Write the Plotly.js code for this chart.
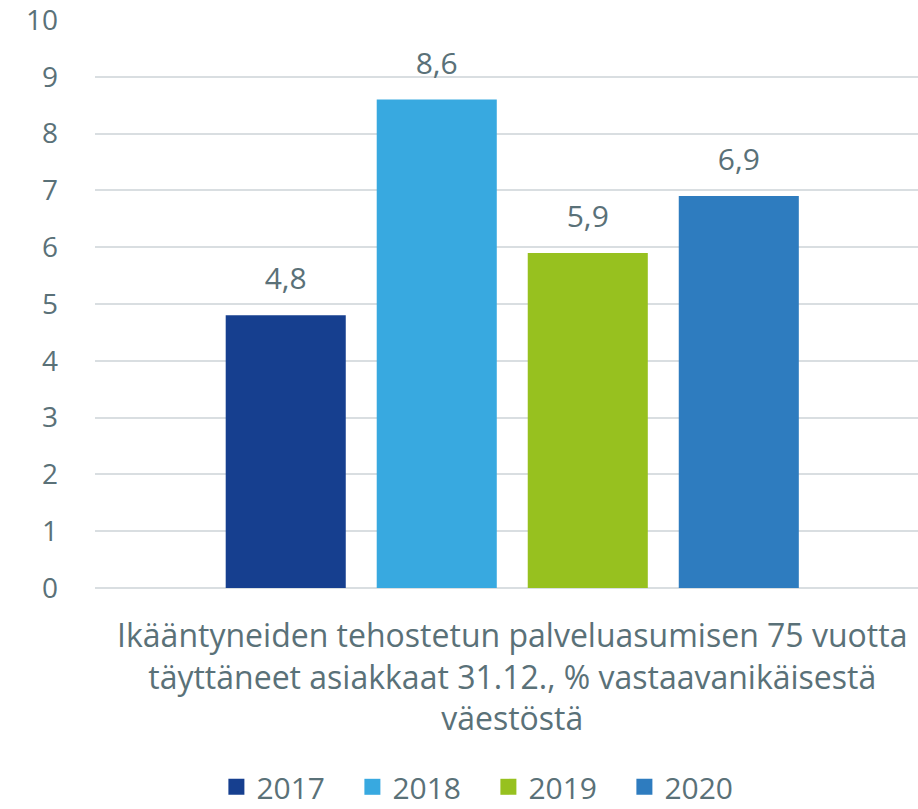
<!DOCTYPE html>
<html>
<head>
<meta charset="utf-8">
<script src="https://cdn.plot.ly/plotly-3.0.1.min.js"></script>
<style>html,body{margin:0;padding:0;background:#fff;}#chart{width:918px;height:809px;}</style>
</head>
<body>
<div id="chart"></div>
<script>
const category = ["Ikääntyneiden tehostetun palveluasumisen 75 vuotta<br>täyttäneet asiakkaat 31.12., % vastaavanikäisestä<br>väestöstä"];
const seriesNames = ["2017", "2018", "2019", "2020"];
const seriesValues = [[4.8], [8.6], [5.9], [6.9]];
const seriesColors = ["#163F8F", "#38A9E0", "#97C11F", "#2E7CBF"];
const yTicks = [0,1,2,3,4,5,6,7,8,9,10];

const textColor = "#5A7178";
const fontFam = "Open Sans, Roboto, sans-serif";

const traces = [];
// bars
seriesNames.forEach((name, i) => {
  traces.push({
    type: "bar",
    name: name,
    x: category,
    y: seriesValues[i],
    marker: {color: seriesColors[i]},
    showlegend: false,
    hoverinfo: "none"
  });
});
// value labels, grouped like the bars
seriesNames.forEach((name, i) => {
  traces.push({
    type: "scatter", mode: "markers+text",
    name: name + " label",
    x: category,
    y: seriesValues[i],
    marker: {size: 28, opacity: 0, color: seriesColors[i]},
    texttemplate: "%{y:.1f}",
    textposition: "top center",
    textfont: {family: fontFam, size: 30, color: textColor},
    cliponaxis: false,
    showlegend: false,
    hoverinfo: "none"
  });
});
// legend entries with square swatches (on a hidden overlay axis)
seriesNames.forEach((name, i) => {
  traces.push({
    type: "scatter", mode: "markers", name: name,
    x: [null], y: [null], xaxis: "x2", yaxis: "y2",
    marker: {symbol: "square", size: 20, color: seriesColors[i]},
    showlegend: true, hoverinfo: "none"
  });
});

const layout = {
  width: 918, height: 809,
  margin: {l: 95, r: 0, t: 20, b: 221, autoexpand: false},
  paper_bgcolor: "#fff", plot_bgcolor: "#fff",
  separators: ", ",
  font: {family: fontFam, color: textColor},
  barmode: "group",
  bargap: 0.266,
  bargroupgap: 0.205,
  scattermode: "group",
  scattergap: 0.266,
  showlegend: true,
  legend: {
    orientation: "h", x: 0.478, xanchor: "center", y: -0.35, yanchor: "middle",
    font: {family: fontFam, size: 30, color: textColor},
    itemwidth: 30, traceorder: "normal",
    entrywidth: 91, entrywidthmode: "pixels"
  },
  xaxis: {
    type: "category",
    range: [-0.507, 0.493],
    showgrid: false, zeroline: false, showline: false,
    ticks: "", ticklabelstandoff: 26,
    tickfont: {family: fontFam, size: 32, color: textColor}
  },
  yaxis: {
    range: [0, 10],
    tickvals: yTicks,
    ticktext: yTicks.map(String),
    showgrid: true, gridcolor: "#D9DEE1", gridwidth: 2,
    zeroline: true, zerolinecolor: "#D9DEE1", zerolinewidth: 2,
    showline: false, ticks: "", ticklabelstandoff: 36,
    ticklabeloverflow: "allow",
    tickfont: {family: fontFam, size: 28, color: textColor}
  },
  xaxis2: {overlaying: "x", visible: false, showgrid: false, zeroline: false},
  yaxis2: {overlaying: "y", visible: false, showgrid: false, zeroline: false}
};

Plotly.newPlot("chart", traces, layout, {displayModeBar: false, staticPlot: true});
</script>
</body>
</html>
